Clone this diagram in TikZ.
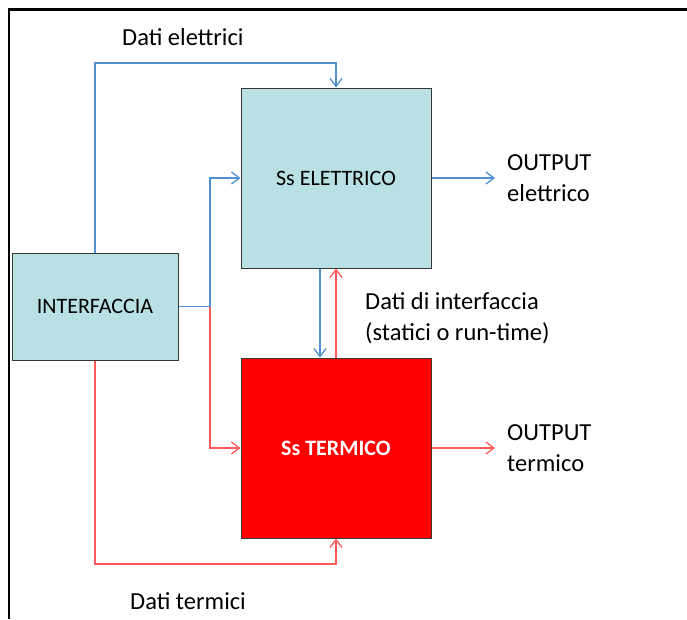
\documentclass[tikz,border=0pt]{standalone}
\usepackage{fontspec}
\setmainfont{Carlito}
\usetikzlibrary{arrows.meta}
\definecolor{azzurro}{RGB}{185,224,227}
\definecolor{bordo}{RGB}{55,55,55}
\definecolor{blulinea}{RGB}{79,145,210}
\definecolor{rossolinea}{RGB}{255,90,90}
\definecolor{rossobox}{RGB}{255,0,0}
\begin{document}
\begin{tikzpicture}[x=1pt,y=-1pt, % une unité = un pixel, y vers le bas
  boite/.style={draw=bordo,line width=1pt,inner sep=0pt,minimum width=190pt,minimum height=180pt,font=\fontsize{22}{26}\selectfont},
  etiq/.style={inner sep=0pt,align=left,font=\fontsize{24.5}{31}\selectfont},
  filbleu/.style={color=blulinea,line width=1.3pt,-{Straight Barb[length=8pt,width=12pt]}},
  filrouge/.style={color=rossolinea,line width=1.3pt,-{Straight Barb[length=8pt,width=12pt]}}]
\useasboundingbox (0,0) rectangle (687,619); % le cadre de l'image
\draw[line width=2.2pt] (687,9.5)--(9,9.5)--(9,619); % le bord
% les blocs
\node[boite,fill=azzurro,minimum width=166pt,minimum height=107pt] (interf) at (95,306.5) {INTERFACCIA};
\node[boite,fill=azzurro] (elet) at (336,178) {Ss ELETTRICO};
\node[boite,fill=rossobox,text=white,font=\fontsize{22}{26}\selectfont\bfseries] (term) at (336,448) {Ss TERMICO};
% les textes
\node[etiq,anchor=base west] (datiE) at (122,45) {Dati elettrici};
\node[etiq,anchor=base west] (datiT) at (130,609) {Dati termici};
\node[etiq,anchor=west] (datiI) at (365,318) {Dati di interfaccia\\(statici o run-time)};
\node[etiq,anchor=west] (outE) at (507,178) {OUTPUT\\elettrico};
\node[etiq,anchor=west] (outT) at (507,448) {OUTPUT\\termico};
% les coudes
\coordinate (hautE) at (336,63);
\coordinate (nodo) at (210,306.5);
\coordinate (basT) at (336,564);
% les liaisons
\draw[filrouge] (interf.east)--(nodo) |- (term.west);
\draw[filbleu] (interf.east)--(nodo) |- (elet.west);
\draw[filbleu] (interf.north) |- (hautE)--(elet.north);
\draw[filrouge] (interf.south) |- (basT)--(term.south);
\draw[filbleu] ([xshift=-16pt]elet.south)--([xshift=-16pt]term.north);
\draw[filrouge] (term.north)--(elet.south);
\draw[filbleu] (elet.east)--([xshift=-12pt]outE.west);
\draw[filrouge] (term.east)--([xshift=-12pt]outT.west);
\end{tikzpicture}
\end{document}
